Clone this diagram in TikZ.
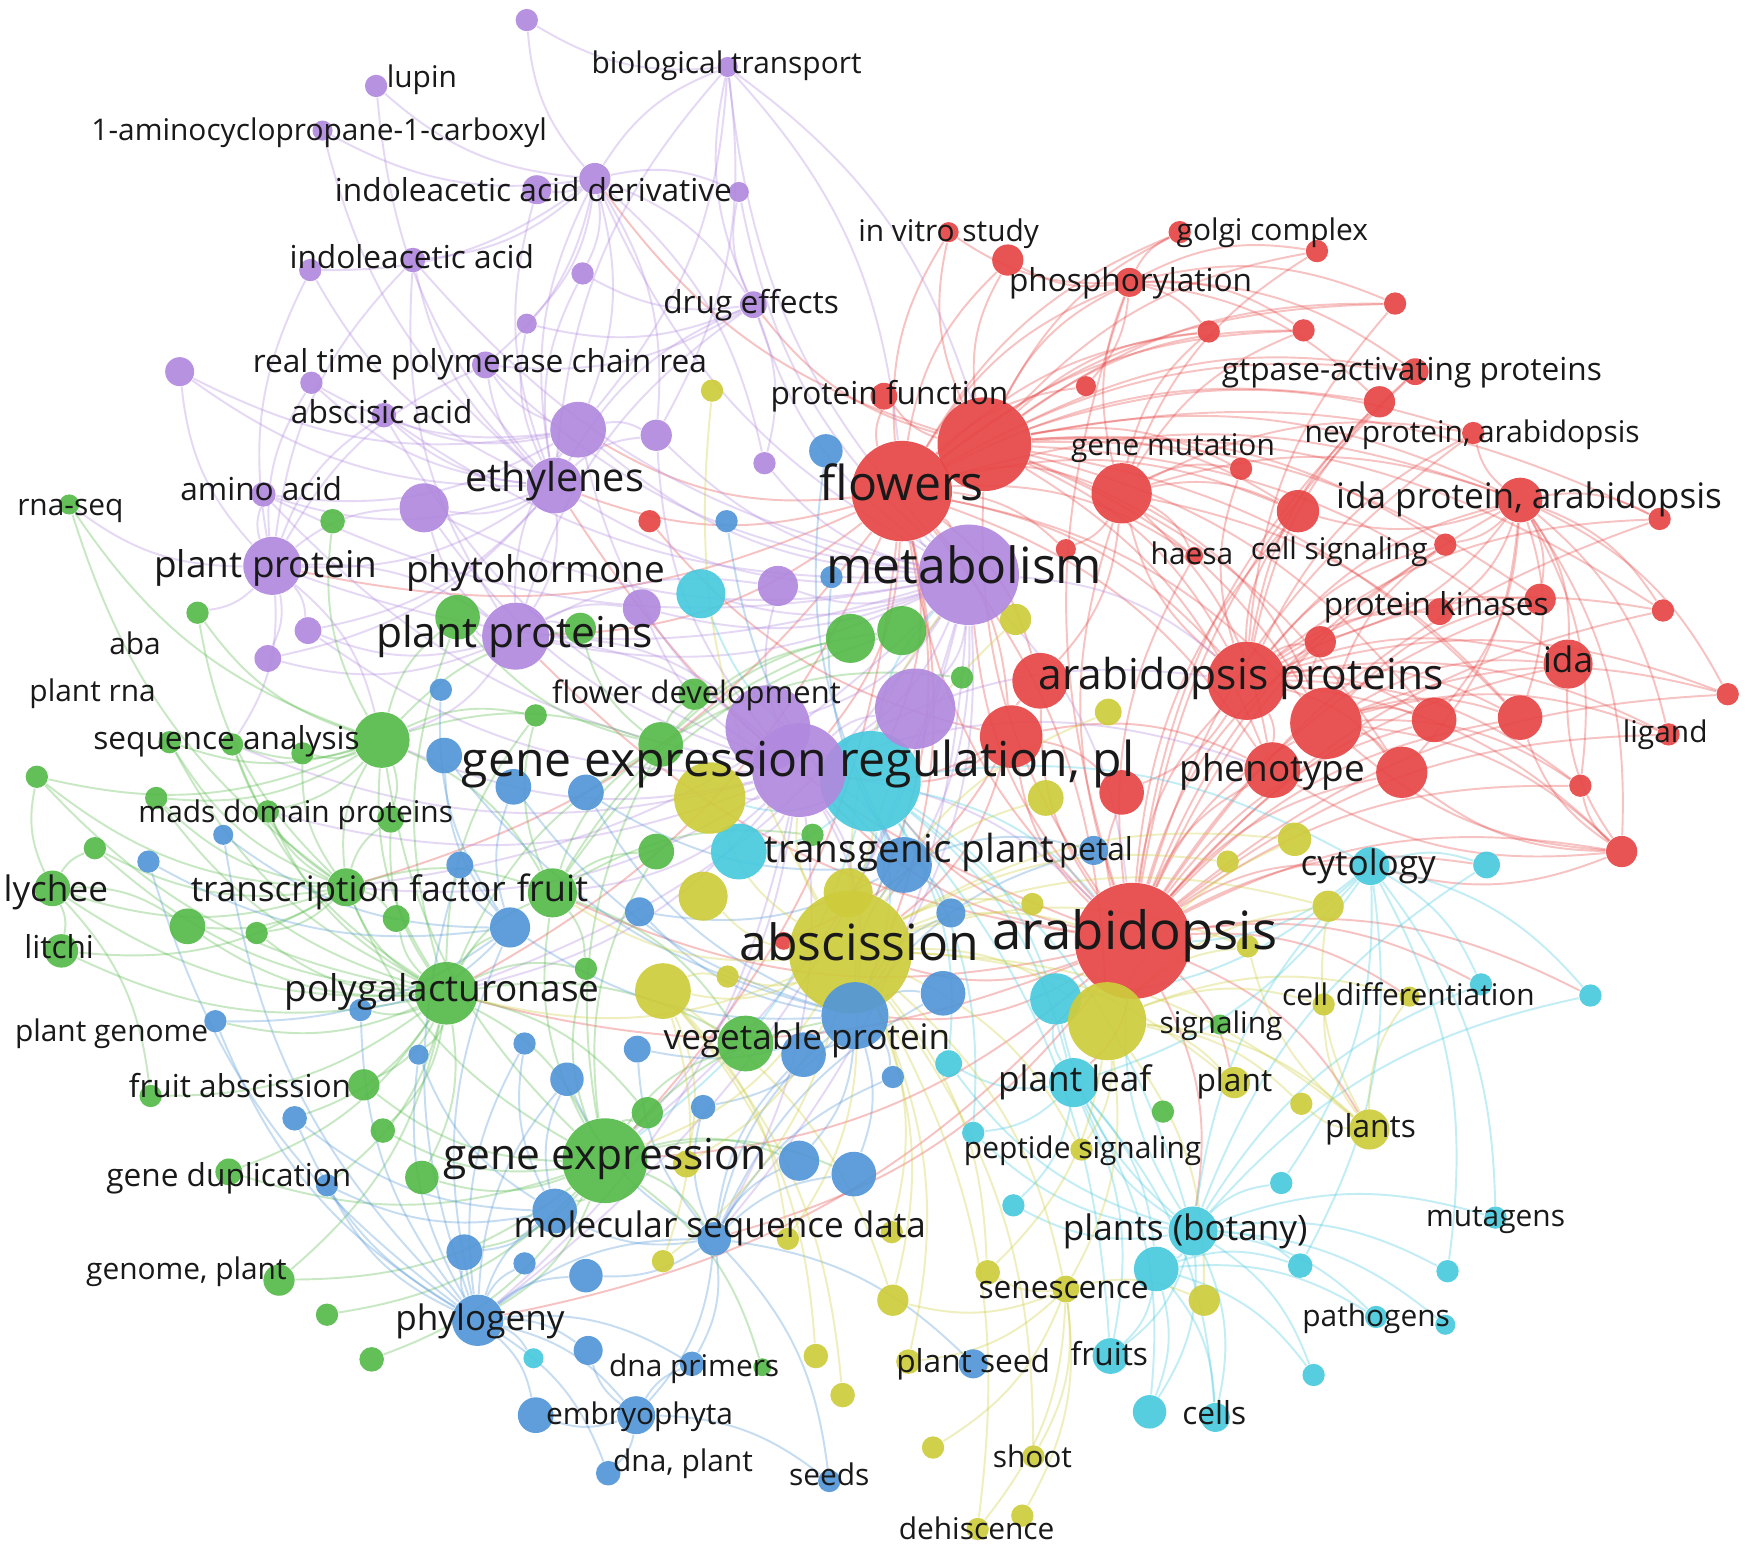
\documentclass[tikz,border=0pt]{standalone}
\usepackage{fontspec}
\setmainfont{Open Sans}
\definecolor{vosred}{RGB}{231,70,70}
\definecolor{vospurple}{RGB}{177,137,222}
\definecolor{vosgreen}{RGB}{86,186,74}
\definecolor{vosblue}{RGB}{82,150,215}
\definecolor{vosyellow}{RGB}{206,204,60}
\definecolor{voscyan}{RGB}{72,202,222}
\pgfdeclarelayer{edges}
\pgfsetlayers{edges,main}
\tikzset{
  kwnode/.style={circle, fill=#1, fill opacity=.92, draw=none, inner sep=0pt},
  kwlabel/.style={inner sep=0pt, text=black!90, text height=.72em, text depth=.2em},
  kwlink/.style={draw=#1, draw opacity=.33, line width=.55pt, bend left=18}
}

\begin{document}
\begin{tikzpicture}[x=0.1116mm, y=-0.1116mm]
  \useasboundingbox (0,0) rectangle (1568,1394);
  \begin{pgfonlayer}{edges}
    \fill[white] (0,0) rectangle (1568,1394);
  \end{pgfonlayer}

  % red cluster
  \foreach \n/\x/\y/\r in {vitro/850/208/9, rB1/903/233/14, golgi/1057/208/10, rB2/1180/225/10,
      phos/1012/253/13, rB3/1250/272/10, rB4/1083/297/10, rB5/1168/296/10, gtp/1268/333/12,
      rB6/1236/360/14, rB7/973/346/9, pfun/792/355/12, rB8/882/398/42, flowers/808/440/45,
      gmut/1005/442/27, rB9/1112/420/10, nev/1320/388/10, rB10/1163/458/19, idap/1362/448/20,
      rB11/1487/465/10, haesa/1070/498/8, csig/1295/488/10, rB12/955/492/9, rB13/1380/537/14,
      pkin/1183/575/14, rB14/1290/548/12, rB15/1490/547/10, ida/1405/595/22, rB16/1548/622/10,
      rB17/932/610/25, aprot/1117/610/35, rB18/1188/648/32, rB19/1285/645/20, rB20/1362/643/20,
      ligand/1495/658/10, rB21/906/660/28, rB22/1005/710/20, pheno/1140/690/25, rB23/1256/692/23,
      rB24/1416/704/10, rB25/1453/763/14, arab/1015/843/52, rB26/582/467/10, rB27/702/843/8}
    \node[kwnode=vosred, minimum size=0.2232mm*\r] (\n) at (\x,\y) {};

  % cyan cluster
  \foreach \n/\x/\y/\r in {cA1/628/532/22, cA2/780/700/45, cA3/662/763/25, cyto/1228/776/17,
      cA4/1332/775/12, cA5/946/895/23, pleaf/962/970/22, cA6/850/953/12, cA7/1327/882/10,
      cA8/1425/892/10, cA9/1148/1060/10, cA10/908/1080/10, botany/1069/1103/22, cA11/1036/1137/20,
      cA12/1165/1134/11, cA13/1297/1139/10, mutag/1340/1091/10, patho/1233/1180/10,
      cA14/1295/1187/9, fruits/995/1215/16, cA15/1030/1265/15, cells/1089/1270/13,
      cA16/1177/1232/10, cA17/478/1217/9, cA18/872/1015/10}
    \node[kwnode=voscyan, minimum size=0.2232mm*\r] (\n) at (\x,\y) {};

  % yellow cluster
  \foreach \n/\x/\y/\r in {yA1/638/350/10, yA2/910/555/14, yA3/993/638/12, yA4/636/715/32,
      yA5/937/715/16, yA6/1160/752/15, yA7/1100/772/10, yA8/630/803/22, yA9/760/800/22,
      yA10/925/810/10, absc/762/853/55, yA11/594/888/25, yA12/652/875/10, yA13/1118/848/10,
      yA14/1190/812/14, yA15/992/915/35, yA16/1186/900/10, celld/1263/893/9, plant/1106/970/14,
      yA17/1166/989/10, plants/1227/1012/18, pepsig/969/1030/10, yA18/615/1043/12,
      yA19/706/1110/10, yA20/799/1104/10, yA21/594/1130/10, yA22/885/1140/11, senes/955/1155/12,
      yA23/1079/1165/14, yA24/800/1165/14, yA25/731/1215/11, yA26/814/1220/11, yA27/755/1250/11,
      yA28/836/1297/10, shoot/926/1305/10, yA29/916/1358/10, dehis/876/1370/10}
    \node[kwnode=vosyellow, minimum size=0.2232mm*\r] (\n) at (\x,\y) {};

  % blue cluster
  \foreach \n/\x/\y/\r in {bA1/740/404/15, bA2/651/467/10, bA3/745/517/10, bA4/395/618/10,
      bA5/398/677/16, bA6/460/705/16, bA7/525/710/16, bA8/200/748/9, bA9/133/772/10,
      bA10/412/775/12, bA11/573/817/13, bA12/457/831/18, bA13/810/775/25, bA14/852/818/13,
      bA15/845/890/20, petal/980/762/13, vegp/766/910/30, bA16/720/945/20, pgen/193/915/10,
      bA17/323/905/10, bA18/470/935/10, bA19/571/940/12, bA20/375/945/9, bA21/508/967/15,
      bA22/264/1002/11, bA23/630/992/11, bA24/800/965/10, bA25/716/1040/18, bA26/765/1052/20,
      bA27/293/1062/10, bA28/497/1085/20, msd/640/1110/15, bA29/416/1122/16, bA30/470/1132/10,
      bA31/525/1143/15, phylo/428/1183/23, bA32/527/1210/13, bA33/620/1222/11, bA34/480/1268/16,
      embry/570/1268/17, dnapl/545/1320/11, seeds/743/1327/10, pseed/872/1222/13}
    \node[kwnode=vosblue, minimum size=0.2232mm*\r] (\n) at (\x,\y) {};

  % green cluster
  \foreach \n/\x/\y/\r in {rnaseq/62/452/9, gA1/298/467/11, gA2/177/549/10, gA3/410/553/20,
      gA4/520/563/14, gA5/762/572/22, gA6/808/565/22, gA7/862/607/10, fdev/622/622/14,
      gA8/342/663/25, seqan/208/667/10, gA9/152/665/10, gA10/271/675/10, gA11/592/667/20,
      gA12/480/641/10, gA13/33/696/10, gA14/140/715/10, mads/240/727/10, gA15/350/734/12,
      gA16/85/760/10, lychee/47/796/16, tfac/310/795/17, fruit/495/800/22, gA17/355/823/12,
      gA18/230/836/10, gA19/168/830/16, litchi/55/852/15, gA20/588/763/16, gA21/728/748/10,
      pgal/400/890/28, gA22/525/868/10, gA23/668/935/25, frab/326/972/14, gA24/135/982/10,
      gA25/580/997/14, gA26/343/1013/11, gdup/205/1050/12, gA27/378/1055/15, gexp/542/1040/38,
      genpl/250/1147/14, gA28/293/1178/10, gA29/333/1218/11, dnapr/683/1225/8,
      signl/1093/918/9, gA30/1042/996/10}
    \node[kwnode=vosgreen, minimum size=0.2232mm*\r] (\n) at (\x,\y) {};

  % purple cluster
  \foreach \n/\x/\y/\r in {pA1/472/18/10, lupin/337/77/10, biotr/652/60/9, acc/289/117/9,
      iaad/533/160/14, pA2/481/170/13, pA3/662/172/9, iaa/370/233/11, pA4/278/242/10,
      pA5/522/245/10, drug/675/273/12, pA6/472/290/9, pA7/161/333/13, rtpcr/435/327/12,
      pA8/279/343/10, absac/344/372/11, pA9/518/385/25, pA10/588/390/14, pA11/685/415/10,
      ethyl/497/435/25, pA12/380/455/22, amino/236/443/11, pprot/244/507/26, pA13/276/565/12,
      pA14/240/590/12, pprots/462/570/30, pA15/575/545/17, pA16/697/525/18, metab/868/515/45,
      pA17/688/652/38, pA18/820/635/36, gexreg/716/690/42}
    \node[kwnode=vospurple, minimum size=0.2232mm*\r] (\n) at (\x,\y) {};

  % links
  \begin{pgfonlayer}{edges}
    \foreach \s/\tl in {
        arab/{flowers,rB8,aprot,rB18,pheno,rB23,rB19,rB20,idap,ida,rB25,rB24,ligand,gmut,rB21,rB17,rB22,pkin,rB13,csig,rB10,phos,gtp,rB6,nev,rB11,rB15,rB16,haesa,cyto,pleaf,absc,yA15,plants,plant,metab,botany,celld,cA7,gexp,pgal,vegp,msd,gexreg,cA2,pprots,ethyl,fruit,phylo,cA8,cA4},
        flowers/{rB8,vitro,rB1,phos,pfun,rB7,gmut,rB10,aprot,rB17,rB21,rB12,haesa,pheno,rB18,idap,gtp,rB6,rB4,rB5,golgi,metab,ethyl,pA9,gexreg,rB3,absc,pprots,pgal,gexp,cA2,vegp,yA15,pprot,tfac},
        rB8/{vitro,rB1,phos,golgi,rB2,rB4,rB5,rB3,gtp,nev,rB9,idap,rB10,aprot,rB18,pheno,csig,rB11,rB13,rB15,ida,rB20,pfun,drug,iaad,rB19,rB23},
        aprot/{idap,ida,rB13,pkin,csig,rB10,rB19,rB20,rB23,ligand,rB16,rB15,rB24,rB25,nev,gtp,rB9,rB11,gmut,rB22,pheno,rB14,rB6,rB3},
        gmut/{phos,rB4,rB9,rB10,haesa,idap,nev,rB12,rB17,rB18,pheno,rB20,rB5,rB2},
        idap/{rB11,rB13,ida,rB20,rB19,ligand,rB16,rB15,csig,pkin,nev,rB25,rB24,rB23,rB10,rB14},
        rB18/{ida,rB19,rB20,rB23,rB24,rB25,pkin,rB13,csig,ligand,rB16},
        phos/{golgi,rB2,rB3,rB4,rB5,gtp,rB6,rB7,rB1,vitro},
        rB25/{rB20,rB23,pheno,ida,rB24,cyto,rB18},
        rB21/{rB17,pheno,rB22,absc,gexreg,cA2,rB27,rB26}}
      {\foreach \tg in \tl {\draw[kwlink=vosred] (\s) to (\tg);}}
    \foreach \s/\tl in {
        metab/{flowers,ethyl,pprots,pprot,pA9,pA10,pA15,pA16,pA17,pA18,gexreg,drug,iaad,pA11,pA12,absac,rtpcr,iaa,biotr,pA3,amino,cA1,absc,arab,aprot,gexp,pgal,vegp,phylo,msd,tfac},
        ethyl/{pA9,pA10,pA12,pprot,amino,absac,rtpcr,iaa,iaad,pA2,pA5,pA6,drug,pprots,pA13,pA14,pA8,pA7,pA4,acc,lupin,biotr},
        pprot/{pA7,pA8,pA12,pA13,pA14,amino,absac,rtpcr,iaa,pA4,rnaseq,gA2,seqan,gA8,pprots},
        pprots/{pA12,pA13,pA14,pA15,pA16,pA17,gexreg,gA3,gA4,gA8,pA9,iaa,drug},
        iaad/{pA2,pA3,pA5,pA6,biotr,drug,iaa,pA4,acc,lupin,pA1,rtpcr,pA9,pA10,pA11},
        gexreg/{pA17,pA18,pA15,pA16,pA9,pA10,amino,absac,pA12,pA13,gexp,pgal,tfac,fruit,absc,arab,aprot,cA3,yA4,bA13,vegp,msd,phylo,gA8,seqan,mads,pheno},
        drug/{biotr,pA3,pA5,pA6,pA11,rtpcr},
        biotr/{pA1,pA9,pA10,flowers,rB8},
        pA9/{pA10,absac,amino,rtpcr,pA8,pA7}}
      {\foreach \tg in \tl {\draw[kwlink=vospurple] (\s) to (\tg);}}
    \foreach \s/\tl in {
        pgal/{lychee,litchi,gA19,gA18,tfac,gA17,gA15,gA8,seqan,gA9,gA14,mads,gA13,gA16,frab,gA24,gdup,gA26,gA27,gexp,fruit,gA22,gA23,gA25,genpl,gA3,gA12,gA11,pgen,bA12,bA17,bA20,bA22,bA27},
        gexp/{gA25,gA23,gA26,gA27,gdup,genpl,gA28,gA29,frab,fruit,gA20,gA11,gA22,tfac,dnapr,gA8,msd,bA28,bA29,phylo,vegp,bA25,bA26},
        tfac/{lychee,litchi,gA19,gA18,gA16,gA13,gA14,mads,seqan,gA9,gA10,gA8,gA15,gA17,fruit,rnaseq,gA2},
        gA8/{seqan,gA9,gA10,gA12,gA3,gA4,gA13,gA14,mads,rnaseq,gA2,gA15,fruit,gA11,gA1},
        fruit/{gA20,gA11,gA21,gA12,gA23,gA5,gA6,gA22},
        gA11/{gA5,gA6,gA7,fdev,gA4,gA3},
        lychee/{litchi,gA16,gA13,gA19,gA24}}
      {\foreach \tg in \tl {\draw[kwlink=vosgreen] (\s) to (\tg);}}
    \foreach \s/\tl in {
        phylo/{bA29,bA30,bA31,bA32,bA34,embry,dnapl,bA28,msd,bA27,bA22,bA20,bA17,pgen,bA33,cA17,bA21,bA18,bA12,bA10,bA9,bA8},
        msd/{bA25,bA26,bA28,bA31,bA33,embry,seeds,pseed,bA23,bA19,bA21,bA16,vegp,bA24,bA15},
        vegp/{bA13,bA14,bA15,bA16,bA24,bA25,bA26,bA11,bA19,bA23,bA12,bA7,bA6,bA5,petal},
        bA13/{bA14,petal,bA3,bA2,bA1,bA7,bA11},
        bA28/{bA21,bA29,bA27,bA20,bA18,bA22},
        embry/{bA32,bA34,dnapl,seeds,bA33},
        bA12/{bA10,bA6,bA5,bA4,bA9,bA8,pgen,bA17}}
      {\foreach \tg in \tl {\draw[kwlink=vosblue] (\s) to (\tg);}}
    \foreach \s/\tl in {
        botany/{cA11,cA12,cA13,mutag,patho,cA14,fruits,cA15,cells,cA16,cA9,cA10,cA18,pleaf,cA5,cyto,cA7,cA8,cA4,arab,cA6},
        cyto/{cA4,cA7,cA8,cA5,pleaf,arab,cA9,cA12,cA13,mutag},
        cA2/{cA1,cA3,cA5,cA6,pleaf,cyto,cA18,fruits,arab,metab,absc,gexp,vegp,bA13,yA4,yA9,botany},
        pleaf/{cA5,cA6,cA18,cA10,cA11,cA15,cells,fruits},
        cA11/{cA15,cells,fruits,cA16,cA12,patho}}
      {\foreach \tg in \tl {\draw[kwlink=voscyan] (\s) to (\tg);}}
    \foreach \s/\tl in {
        absc/{yA15,yA4,yA8,yA9,yA10,yA11,yA12,yA18,yA19,yA20,yA2,yA3,yA5,yA6,yA7,yA13,yA14,plant,plants,senes,pepsig,yA22,yA24,yA26,yA21,arab,gexp,pgal,fruit,gexreg,metab,vegp,shoot,dehis,yA1},
        yA15/{plant,yA17,plants,celld,yA16,pepsig,senes,yA23,yA22,yA13,yA14,yA6},
        plants/{yA16,celld,yA14,yA17,yA13},
        yA11/{yA18,yA21,yA19,yA25,yA27,yA24,yA12},
        senes/{yA23,yA22,yA24,yA26,yA28,shoot,yA29,dehis}}
      {\foreach \tg in \tl {\draw[kwlink=vosyellow] (\s) to (\tg);}}
  \end{pgfonlayer}

  % labels
  \foreach \n/\x/\y/\s/\lab in {lupin/378/70/8.5/lupin, biotr/651/58/8.5/biological transport,
      acc/286/118/8.5/1-aminocyclopropane-1-carboxyl, iaad/478/172/9/indoleacetic acid derivative,
      iaa/369/232/9/indoleacetic acid, drug/673/273/9/drug effects,
      rtpcr/430/326/9/real time polymerase chain rea, absac/342/371/9/abscisic acid,
      amino/234/440/9/amino acid, ethyl/497/432/11.3/ethylenes, pprot/238/509/10.5/plant protein,
      phyto/480/514/10.5/phytohormone, pprots/461/572/12.1/plant proteins,
      metab/864/515/14.2/metabolism, gexreg/715/688/13.7/{gene expression regulation, pl},
      fdev/624/622/8.8/flower development, vitro/850/208/8.5/in vitro study,
      golgi/1140/207/8.5/golgi complex, phos/1013/253/9/phosphorylation,
      gtp/1265/333/9/gtpase-activating proteins, pfun/797/354/9/protein function,
      nev/1319/388/8.5/{nev protein, arabidopsis}, gmut/1051/400/8.5/gene mutation,
      flowers/808/440/13.7/flowers, idap/1370/447/10/{ida protein, arabidopsis},
      haesa/1068/498/8.5/haesa, csig/1200/493/8.5/cell signaling, pkin/1287/543/9/protein kinases,
      ida/1405/594/10/ida, aprot/1112/610/12.1/arabidopsis proteins, ligand/1492/657/8.5/ligand,
      pheno/1140/692/10.5/phenotype, arab/1017/843/15/arabidopsis, absc/770/852/14.2/abscission,
      tplant/815/765/11/transgenic plant, petal/982/763/9/petal, cyto/1226/776/10/cytology,
      rnaseq/63/454/8.5/rna-seq, aba/121/578/8.5/aba, prna/83/620/8.5/plant rna,
      seqan/203/663/9/sequence analysis, mads/265/729/8.5/mads domain proteins,
      lychee/50/800/10/lychee, tfac/312/800/10/transcription factor, fruit/495/800/10.3/fruit,
      litchi/53/851/9/litchi, pgal/396/889/10.5/polygalacturonase,
      celld/1262/893/8.5/cell differentiation, pgen/100/925/8.5/plant genome,
      signl/1094/918/8.5/signaling, vegp/723/932/10/vegetable protein,
      frab/215/975/9/fruit abscission, pleaf/963/970/10/plant leaf, plant/1106/970/9/plant,
      plants/1228/1011/9/plants, pepsig/970/1030/8.5/peptide signaling,
      gdup/205/1055/9/gene duplication, gexp/542/1040/12.1/gene expression,
      msd/645/1101/10/molecular sequence data, botany/1062/1103/10/plants (botany),
      mutag/1340/1091/8.5/mutagens, genpl/167/1138/8.5/{genome, plant},
      senes/953/1155/9/senescence, phylo/430/1184/10/phylogeny, patho/1233/1180/8.5/pathogens,
      dnapr/622/1225/8.5/dna primers, pseed/872/1222/9/plant seed, fruits/994/1215/9/fruits,
      embry/573/1268/8.5/embryophyta, cells/1088/1268/9/cells, dnapl/612/1310/8.5/{dna, plant},
      seeds/743/1323/8.5/seeds, shoot/925/1307/8.5/shoot, dehis/875/1371/8.5/dehiscence}
    \node[kwlabel, font=\fontsize{\s}{\s}\selectfont] (\n-t) at (\x,\y) {\lab};
\end{tikzpicture}
\end{document}
